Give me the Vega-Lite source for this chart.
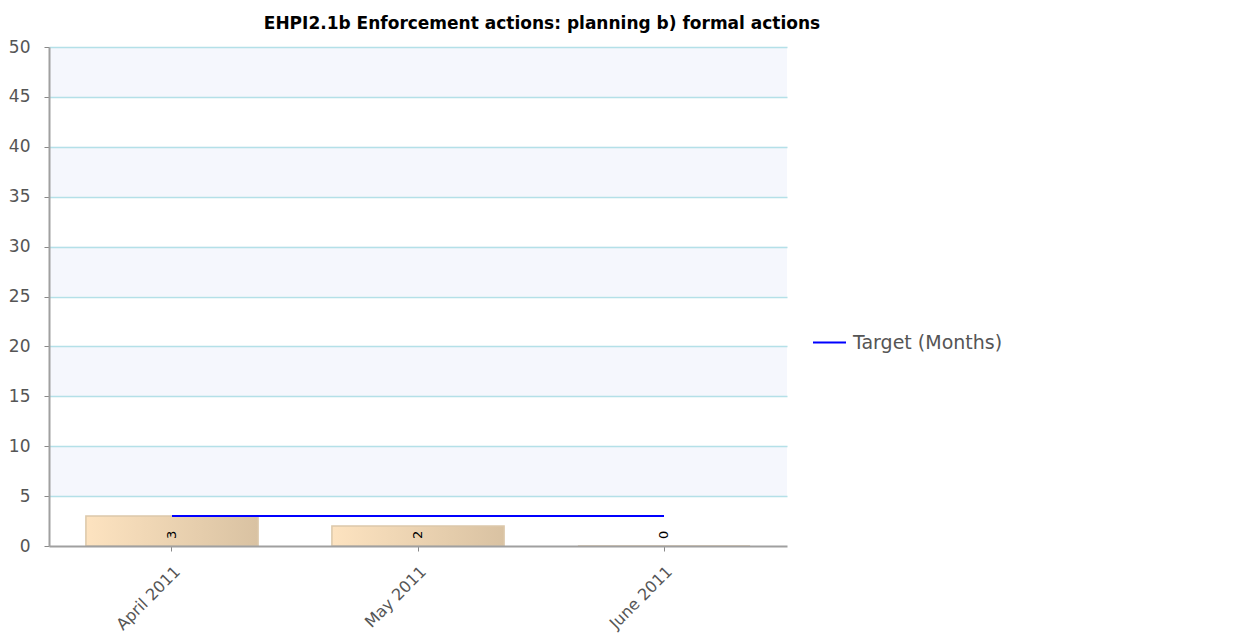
{
  "$schema": "https://vega.github.io/schema/vega-lite/v6.json",
  "width": 738,
  "height": 499,
  "autosize": "none",
  "padding": {"left": 49, "top": 47, "right": 447, "bottom": 87},
  "background": "white",
  "config": {"view": {"stroke": null}},
  "title": {
    "text": "EHPI2.1b Enforcement actions: planning b) formal actions",
    "font": "DejaVu Sans",
    "fontSize": 17,
    "fontWeight": "bold",
    "color": "#000000",
    "anchor": "middle",
    "dx": 124,
    "offset": 5
  },
  "data": {
    "values": [
      {"month": "April 2011", "value": 3, "target": 3},
      {"month": "May 2011", "value": 2, "target": 3},
      {"month": "June 2011", "value": 0, "target": 3}
    ]
  },
  "layer": [
    {
      "data": {
        "values": [
          {"lo": 5, "hi": 10},
          {"lo": 15, "hi": 20},
          {"lo": 25, "hi": 30},
          {"lo": 35, "hi": 40},
          {"lo": 45, "hi": 50}
        ]
      },
      "mark": {"type": "rect", "color": "#f5f7fd"},
      "encoding": {
        "y": {
          "field": "lo",
          "type": "quantitative",
          "scale": {"domain": [0, 50], "nice": false},
          "axis": {
            "title": null,
            "values": [0, 5, 10, 15, 20, 25, 30, 35, 40, 45, 50],
            "grid": true,
            "gridColor": "#b4e0e8",
            "gridWidth": 1.5,
            "gridOpacity": {"condition": {"test": "datum.value === 0", "value": 0}, "value": 1},
            "domainColor": "#a0a0a0",
            "domainWidth": 2,
            "tickColor": "#888888",
            "tickSize": 5,
            "labelFont": "DejaVu Sans",
            "labelFontSize": 17,
            "labelColor": "#555555",
            "labelPadding": 14,
            "zindex": 1
          }
        },
        "y2": {"field": "hi"}
      }
    },
    {
      "mark": {
        "type": "bar",
        "color": {
          "gradient": "linear",
          "x1": 0, "y1": 0, "x2": 1, "y2": 0,
          "stops": [
            {"offset": 0, "color": "#fde3c0"},
            {"offset": 1, "color": "#d9c2a2"}
          ]
        },
        "stroke": "#dcc8aa",
        "strokeWidth": 1.5
      },
      "encoding": {
        "x": {
          "field": "month",
          "type": "nominal",
          "sort": null,
          "scale": {"paddingInner": 0.3, "paddingOuter": 0.15},
          "axis": {
            "title": null,
            "labelAngle": -45,
            "labelFont": "DejaVu Sans",
            "labelFontSize": 16,
            "labelColor": "#555555",
            "labelPadding": 12,
            "domainColor": "#a0a0a0",
            "domainWidth": 2,
            "tickColor": "#888888",
            "tickSize": 5,
            "zindex": 1
          }
        },
        "y": {"field": "value", "type": "quantitative"}
      }
    },
    {
      "mark": {"type": "line", "strokeWidth": 2},
      "encoding": {
        "x": {"field": "month", "type": "nominal", "sort": null},
        "y": {"field": "target", "type": "quantitative"},
        "color": {
          "datum": "Target (Months)",
          "type": "nominal",
          "scale": {"range": ["#0000ff"]},
          "legend": {
            "title": null,
            "orient": "none",
            "legendX": 763,
            "legendY": 278,
            "padding": 0,
            "symbolType": "stroke",
            "symbolStrokeWidth": 2,
            "symbolSize": 1089,
            "labelFont": "DejaVu Sans",
            "labelFontSize": 19,
            "labelColor": "#555555",
            "labelOffset": 6
          }
        }
      }
    },
    {
      "mark": {"type": "text", "angle": 270, "align": "left", "baseline": "middle", "dx": 7, "fontSize": 13, "font": "DejaVu Sans", "color": "#000000"},
      "encoding": {
        "x": {"field": "month", "type": "nominal", "sort": null},
        "y": {"datum": 0, "type": "quantitative"},
        "text": {"field": "value", "type": "quantitative"}
      }
    }
  ]
}
